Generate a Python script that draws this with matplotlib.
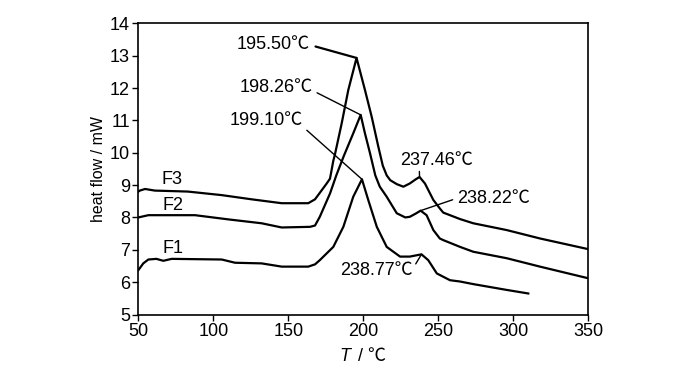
import matplotlib
matplotlib.use('Agg')
import matplotlib.pyplot as plt
from matplotlib import font_manager

# fonts: narrow Arial-like face, CJK face for the degree-Celsius sign
names = {f.name for f in font_manager.fontManager.ttflist}
base = 'Liberation Sans Narrow' if 'Liberation Sans Narrow' in names else 'Liberation Sans'
plt.rcParams['font.family'] = [base, 'Noto Sans CJK SC', 'DejaVu Sans']

# data
t_f3 = [50, 51, 54.5, 61, 83, 105.6, 125.6, 145.6, 163.3, 167.8, 175.6, 177.8, 180, 181.1,
        185.6, 190, 195.5, 201.1, 205.6, 210, 213, 215.6, 218, 222.3, 226.7, 231, 235,
        237.5, 241.1, 246.7, 251, 253.3, 264.5, 273.3, 295.6, 317.8, 350]
hf_f3 = [8.8, 8.83, 8.88, 8.83, 8.8, 8.69, 8.56, 8.44, 8.44, 8.56, 9.05, 9.2, 9.75, 9.95,
         10.91, 11.94, 12.93, 11.94, 11.11, 10.19, 9.6, 9.3, 9.15, 9.03, 8.95, 9.05, 9.18,
         9.25, 9.05, 8.54, 8.28, 8.15, 7.95, 7.82, 7.61, 7.35, 7.02]

t_f2 = [50, 56.7, 87.8, 110, 132.2, 145.6, 164.5, 167.8, 171, 177.8, 182, 187, 193.3, 198.26,
        201.1, 204.5, 208, 211, 215.6, 222.3, 228, 231, 235, 238.2, 242.2, 246.7, 251,
        253.3, 264.5, 273.3, 295.6, 317.8, 350]
hf_f2 = [8.0, 8.07, 8.07, 7.94, 7.82, 7.69, 7.71, 7.75, 8.02, 8.74, 9.3, 9.9, 10.6, 11.17,
         10.6, 9.98, 9.3, 8.95, 8.64, 8.13, 8.0, 8.02, 8.12, 8.21, 8.07, 7.61, 7.35,
         7.3, 7.09, 6.94, 6.74, 6.48, 6.12]

t_f1 = [50, 53.3, 56.7, 62, 66.7, 72.2, 105.6, 114.5, 132.2, 145.6, 163.3, 167.8, 171, 180,
        186.7, 193.3, 199.1, 203.3, 209, 215.6, 224.5, 231, 238.8, 243.3, 249, 257.8,
        264.5, 273.3, 295.6, 310]
hf_f1 = [6.37, 6.58, 6.7, 6.72, 6.66, 6.72, 6.7, 6.6, 6.58, 6.48, 6.48, 6.55, 6.68, 7.09,
         7.71, 8.64, 9.18, 8.54, 7.71, 7.09, 6.79, 6.79, 6.86, 6.68, 6.27, 6.06,
         6.02, 5.94, 5.76, 5.65]

fig = plt.figure(figsize=(7, 3.73), dpi=100)
ax = fig.add_axes([0.1976, 0.1568, 0.6428, 0.7807])

ax.plot(t_f3, hf_f3, color='black', lw=1.6)
ax.plot(t_f2, hf_f2, color='black', lw=1.6)
ax.plot(t_f1, hf_f1, color='black', lw=1.6)

ax.set_xlim(50, 350)
ax.set_ylim(5, 14)
ax.set_xticks([50, 100, 150, 200, 250, 300, 350])
ax.set_yticks(range(5, 15))
ax.tick_params(direction='out', length=4, width=1, labelsize=13, pad=2)
for s in ax.spines.values():
    s.set_linewidth(1.2)

ax.set_ylabel('heat flow / mW', fontsize=11.5, labelpad=3)

# x label: italic T, then " / ℃"
ax.text(0.472, -0.115, 'T', style='italic', fontsize=13, ha='right', va='top',
        transform=ax.transAxes)
ax.text(0.477, -0.115, ' / ℃', fontsize=13, ha='left', va='top', transform=ax.transAxes)

# curve labels
ax.text(65.6, 9.16, 'F3', fontsize=13, ha='left', va='center')
ax.text(66.3, 8.38, 'F2', fontsize=13, ha='left', va='center')
ax.text(66.3, 7.04, 'F1', fontsize=13, ha='left', va='center')

# peak annotations
fs = 13
ax.annotate('195.50℃', xy=(195.5, 12.93), xytext=(164.5, 13.33), fontsize=fs,
            ha='right', va='center',
            arrowprops=dict(arrowstyle='-', lw=1.6, relpos=(1, 0.5), shrinkA=2, shrinkB=0))
ax.annotate('198.26℃', xy=(198.26, 11.17), xytext=(166.5, 12.02), fontsize=fs,
            ha='right', va='center',
            arrowprops=dict(arrowstyle='-', lw=1, relpos=(1, 0.3), shrinkA=1, shrinkB=0))
ax.annotate('199.10℃', xy=(199.1, 9.18), xytext=(159.8, 11.01), fontsize=fs,
            ha='right', va='center',
            arrowprops=dict(arrowstyle='-', lw=1, relpos=(1, 0.1), shrinkA=1, shrinkB=0))
ax.annotate('237.46℃', xy=(237.5, 9.25), xytext=(249, 9.77), fontsize=fs,
            ha='center', va='center',
            arrowprops=dict(arrowstyle='-', lw=1, relpos=(0.26, 0), shrinkA=0, shrinkB=0))
ax.annotate('238.22℃', xy=(238.2, 8.21), xytext=(262.3, 8.59), fontsize=fs,
            ha='left', va='center',
            arrowprops=dict(arrowstyle='-', lw=1, relpos=(0, 0.5), shrinkA=1, shrinkB=0))
ax.annotate('238.77℃', xy=(238.8, 6.86), xytext=(208.9, 6.37), fontsize=fs,
            ha='center', va='center',
            arrowprops=dict(arrowstyle='-', lw=1, relpos=(1, 0.6), shrinkA=0, shrinkB=0))

fig.savefig('out.png', dpi=100)
